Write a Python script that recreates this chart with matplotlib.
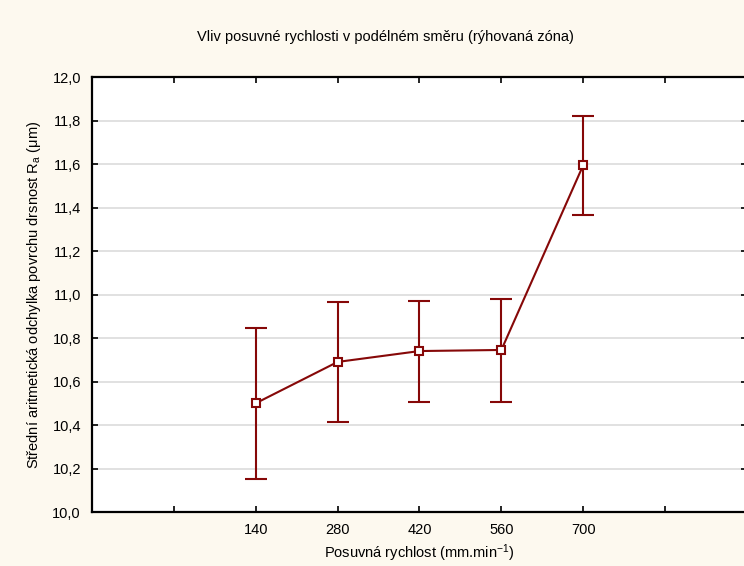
import matplotlib.pyplot as plt
import numpy as np
from matplotlib.ticker import FuncFormatter

# data
speeds = ['140', '280', '420', '560', '700']
ra_mean = [10.50, 10.69, 10.74, 10.745, 11.595]
ra_low = [10.15, 10.415, 10.505, 10.505, 11.365]
ra_high = [10.845, 10.965, 10.97, 10.98, 11.82]

# style
bg = '#fdf9ef'
red = '#860808'
plt.rcParams['font.family'] = ['Liberation Sans Narrow', 'Liberation Sans', 'DejaVu Sans']
plt.rcParams['mathtext.default'] = 'regular'

fig = plt.figure(figsize=(7.44, 5.66), dpi=100, facecolor=bg)
ax = fig.add_axes([92/744, 54/566, 655/744, 435/566])
ax.set_facecolor('white')

x = np.arange(1, len(speeds)+1)
mean = np.array(ra_mean)
yerr = [mean - np.array(ra_low), np.array(ra_high) - mean]
ax.errorbar(x, mean, yerr=yerr, color=red, lw=1.5, elinewidth=1.5,
            capsize=8, capthick=1.5, marker='s', ms=5.5, mfc='white',
            mec=red, mew=1.5, zorder=3)

ax.set_xlim(-1, 7)
ax.set_ylim(10.0, 12.0)
ax.set_xticks(range(0, 7))
ax.set_xticklabels([''] + speeds + [''])
ax.set_yticks(np.arange(10.0, 12.01, 0.2))
ax.yaxis.set_major_formatter(FuncFormatter(lambda v, p: ('%.1f' % v).replace('.', ',')))
ax.tick_params(direction='in', top=True, right=True, length=4, width=1.2,
               labelsize=10.5, pad=8)
ax.grid(axis='y', color='#dcdcdc', lw=1.2)
ax.set_axisbelow(True)
for s in ax.spines.values():
    s.set_linewidth(1.6)

# title sits a bit left of the plot centre in the original
fig.text(385/744, 1 - 37/566, 'Vliv posuvné rychlosti v podélném směru (rýhovaná zóna)',
         fontsize=10.5, ha='center', va='center')
ax.set_xlabel('Posuvná rychlost (mm.min$^{-1}$)', fontsize=10.5, labelpad=4)
ax.set_ylabel('Střední aritmetická odchylka povrchu drsnost R$_a$ (μm)', fontsize=10.5, labelpad=7)

fig.savefig('out.png', dpi=100, facecolor=bg)
